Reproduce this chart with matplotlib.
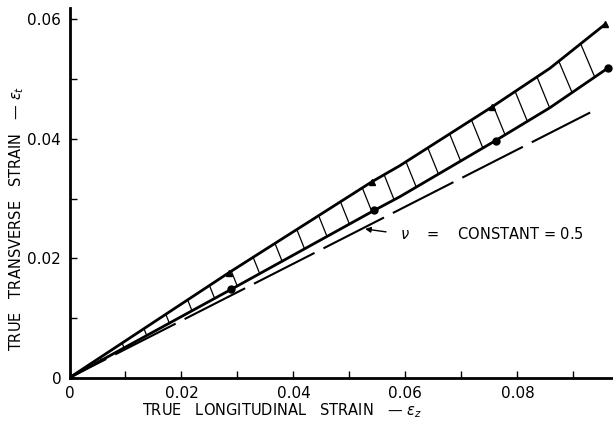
import numpy as np
import matplotlib
matplotlib.use('Agg')
import matplotlib.pyplot as plt

# upper curve (triangles) and lower curve (dots)
upper_x = [0, 0.0285, 0.054, 0.059, 0.0754, 0.0858, 0.0957]
upper_y = [0, 0.0176, 0.0328, 0.0355, 0.0453, 0.0518, 0.0592]
lower_x = [0, 0.0289, 0.0544, 0.059, 0.0761, 0.0858, 0.0961]
lower_y = [0, 0.0148, 0.0280, 0.0303, 0.0397, 0.0452, 0.0518]

tri_x = [0.0285, 0.054, 0.0754, 0.0957]
tri_y = [0.0176, 0.0328, 0.0453, 0.0592]
dot_x = [0.0289, 0.0544, 0.0761, 0.0961]
dot_y = [0.0148, 0.0280, 0.0397, 0.0518]

# nu = constant = 0.5 line
nu_x = [0, 0.093]
nu_y = [0, 0.0444]

x_ticks = [0, 0.01, 0.02, 0.03, 0.04, 0.05, 0.06, 0.07, 0.08, 0.09]
x_labels = ['0', '', '0.02', '', '0.04', '', '0.06', '', '0.08', '']
y_ticks = [0, 0.01, 0.02, 0.03, 0.04, 0.05, 0.06]
y_labels = ['0', '', '0.02', '', '0.04', '', '0.06']

fig = plt.figure(figsize=(6.13, 4.32), dpi=100)
ax = fig.add_axes([69.5 / 613, (432 - 377.7) / 432, 542.5 / 613, 369.7 / 432])

ax.plot(upper_x, upper_y, color='black', lw=2.0, solid_capstyle='round')
ax.plot(lower_x, lower_y, color='black', lw=2.0, solid_capstyle='round')
ax.plot(tri_x, tri_y, ls='none', marker='^', ms=5, color='black')
ax.plot(dot_x, dot_y, ls='none', marker='o', ms=5, color='black')

# hatching between the two curves
for xs in np.arange(0.0055, 0.094, 0.0039):
    yu = np.interp(xs, upper_x, upper_y)
    g = yu - np.interp(xs, lower_x, lower_y)
    xl = xs + 0.35 * g
    yl = np.interp(xl, lower_x, lower_y)
    ax.plot([xs, xl], [yu, yl], color='black', lw=0.9)

ax.plot(nu_x, nu_y, color='black', lw=1.5, linestyle=(12.8, (32.6, 4.8)))

ax.annotate(r'$\nu$    =    CONSTANT = 0.5', xy=(0.0528, 0.0249),
            xytext=(0.0590, 0.0241), ha='left', va='center', fontsize=10.5,
            arrowprops=dict(arrowstyle='-|>', color='black', lw=1,
                            relpos=(0, 0.5), shrinkA=8, shrinkB=0,
                            mutation_scale=8))

ax.set_xlim(0, 0.0969)
ax.set_ylim(0, 0.0619)
ax.set_xticks(x_ticks)
ax.set_xticklabels(x_labels)
ax.set_yticks(y_ticks)
ax.set_yticklabels(y_labels)
ax.tick_params(direction='in', length=5, width=1, labelsize=11, pad=6)

for side in ['top', 'right']:
    ax.spines[side].set_visible(False)
for side in ['left', 'bottom']:
    ax.spines[side].set_linewidth(2)

fig.text(282 / 613, 1 - 411 / 432, 'TRUE   LONGITUDINAL   STRAIN   \u2014 $\\epsilon_z$',
         ha='center', va='center', fontsize=10.5)
fig.text(17 / 613, 1 - 218 / 432, 'TRUE   TRANSVERSE   STRAIN   \u2014 $\\epsilon_t$',
         ha='center', va='center', fontsize=10.5, rotation=90)

fig.savefig('out.png', dpi=100)
